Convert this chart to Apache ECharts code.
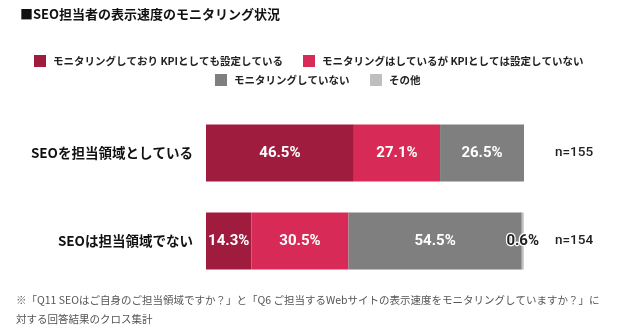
<!DOCTYPE html>
<html>
<head>
<meta charset="utf-8">
<script src="https://cdn.jsdelivr.net/npm/echarts@6/dist/echarts.min.js"></script>
<style>
  html, body { margin: 0; padding: 0; background: #fff; }
  #chart { width: 640px; height: 335px; }
</style>
</head>
<body>
<div id="chart"></div>
<script>
// Survey groups (rows) and their sample sizes
const categories = ['SEOを担当領域としている', 'SEOは担当領域でない'];
const sampleSizes = ['n=155', 'n=154'];

// Answer shares per group, in percent
const seriesNames = [
  'モニタリングしており KPIとしても設定している',
  'モニタリングはしているが KPIとしては設定していない',
  'モニタリングしていない',
  'その他'
];
const monitoredWithKpi = [46.5, 14.3];
const monitoredNoKpi = [27.1, 30.5];
const notMonitored = [26.5, 54.5];
const otherAnswer = [0, 0.6];

const colors = ['#a01c3e', '#d72a57', '#7f7f7f', '#bfbfbf'];
const FONT = '"Noto Sans CJK JP", "Noto Sans", sans-serif';
const NUM_FONT = 'Roboto, "Noto Sans", sans-serif';

const seriesValues = [monitoredWithKpi, monitoredNoKpi, notMonitored, otherAnswer];

const chart = echarts.init(document.getElementById('chart'), null, { renderer: 'canvas' });

const legendSpots = [
  { left: 34, top: 55 },
  { left: 303, top: 55 },
  { left: 215, top: 74 },
  { left: 370, top: 74 }
];

const legends = seriesNames.map((name, i) => ({
  data: [name],
  left: legendSpots[i].left,
  top: legendSpots[i].top,
  itemWidth: 12,
  itemHeight: 12,
  itemGap: 0,
  padding: 0,
  icon: 'rect',
  selectedMode: false,
  textStyle: { fontFamily: FONT, fontSize: 10.5, fontWeight: 'bold', color: '#222', padding: [0, 0, 0, 2] }
}));

const series = seriesNames.map((name, i) => ({
  name: name,
  type: 'bar',
  stack: 'total',
  barWidth: 57,
  data: seriesValues[i],
  itemStyle: { color: colors[i] },
  label: {
    show: true,
    position: 'inside',
    formatter: p => (p.value > 0 ? p.value.toFixed(1) + '%' : ''),
    fontFamily: NUM_FONT,
    fontSize: 15,
    fontWeight: 'bold',
    color: i === 3 ? '#222' : '#fff',
    textBorderColor: i === 3 ? '#fff' : 'transparent',
    textBorderWidth: i === 3 ? 2.5 : 0
  },
  emphasis: { disabled: true }
}));

chart.setOption({
  animation: false,
  backgroundColor: '#fff',
  title: {
    text: '■SEO担当者の表示速度のモニタリング状況',
    left: 20,
    top: 8,
    padding: 0,
    textStyle: { fontFamily: FONT, fontSize: 13, fontWeight: 'bold', color: '#111' }
  },
  legend: legends,
  grid: { left: 206, right: 116, top: 109, height: 176, containLabel: false },
  xAxis: {
    type: 'value',
    min: 0,
    max: 100,
    show: false
  },
  yAxis: [
    {
      type: 'category',
      inverse: true,
      data: categories,
      axisLine: { show: false },
      axisTick: { show: false },
      axisLabel: { margin: 13, fontFamily: FONT, fontSize: 13.5, fontWeight: 'bold', color: '#111' }
    },
    {
      type: 'category',
      inverse: true,
      position: 'right',
      data: sampleSizes,
      axisLine: { show: false },
      axisTick: { show: false },
      axisLabel: { margin: 31, fontFamily: NUM_FONT, fontSize: 13.5, fontWeight: 500, color: '#222' }
    }
  ],
  series: series,
  graphic: [
    {
      type: 'text',
      left: 16,
      top: 295,
      style: {
        text: '※「Q11 SEOはご自身のご担当領域ですか？」と「Q6 ご担当するWebサイトの表示速度をモニタリングしていますか？」に',
        fontFamily: FONT, fontSize: 10.5, fill: '#555'
      }
    },
    {
      type: 'text',
      left: 16,
      top: 314,
      style: {
        text: '対する回答結果のクロス集計',
        fontFamily: FONT, fontSize: 10.5, fill: '#555'
      }
    }
  ]
});
</script>
</body>
</html>
